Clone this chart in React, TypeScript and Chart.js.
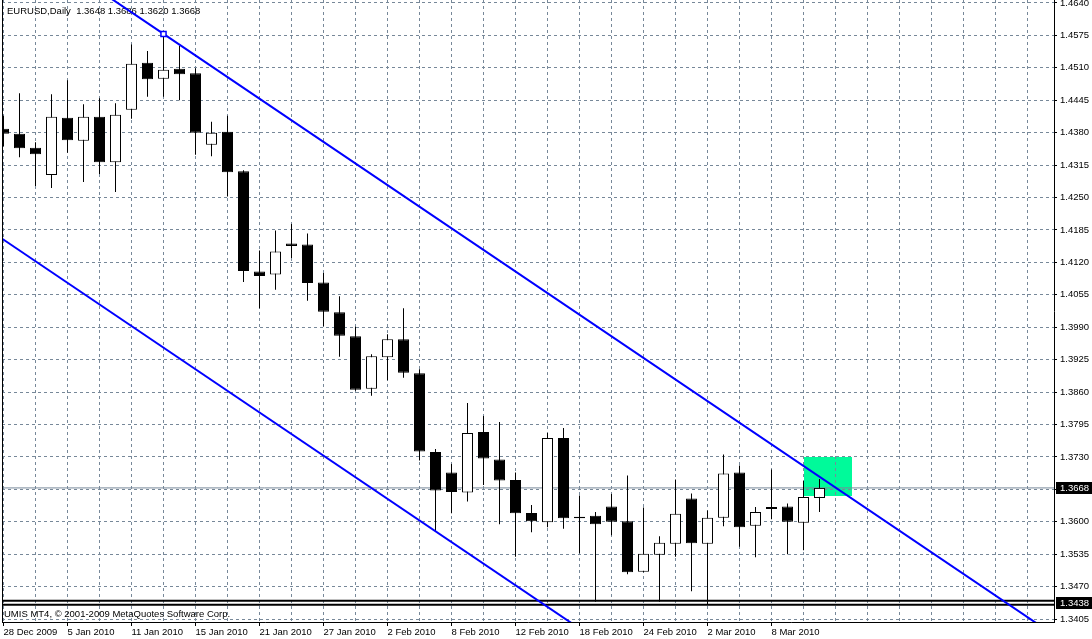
import React, { useEffect, useRef } from 'react';
import { Chart, registerables } from 'chart.js';

Chart.register(...registerables);

// ---------- text ----------
const headerText = 'EURUSD,Daily  1.3648 1.3686 1.3620 1.3668';
const copyrightText = 'UMIS MT4, \u00A9 2001-2009 MetaQuotes Software Corp.';

// ---------- time axis ----------
const dateTickLabels = [
  '28 Dec 2009', '5 Jan 2010', '11 Jan 2010', '15 Jan 2010', '21 Jan 2010',
  '27 Jan 2010', '2 Feb 2010', '8 Feb 2010', '12 Feb 2010', '18 Feb 2010',
  '24 Feb 2010', '2 Mar 2010', '8 Mar 2010',
];
const barsPerDateLabel = 4;
const barsPerGridLine = 2;
const lastGridBar = 64;

// ---------- price axis ----------
const priceTicks = [
  1.4640, 1.4575, 1.4510, 1.4445, 1.4380, 1.4315, 1.4250, 1.4185, 1.4120, 1.4055,
  1.3990, 1.3925, 1.3860, 1.3795, 1.3730, 1.3665, 1.3600, 1.3535, 1.3470, 1.3405,
];
const hiddenPriceTicks = [1.3665];

// ---------- daily candles (bar index 0 = 28 Dec 2009) ----------
const opens = [
  1.4388, 1.4378, 1.4350, 1.4295, 1.4410, 1.4364, 1.4412, 1.4321, 1.4426, 1.4520,
  1.4488, 1.4508, 1.4499, 1.4356, 1.4382, 1.4303, 1.4102, 1.4096, 1.4158, 1.4156,
  1.4080, 1.4020, 1.3972, 1.3867, 1.3930, 1.3966, 1.3898, 1.3740, 1.3699, 1.3659,
  1.3780, 1.3725, 1.3684, 1.3618, 1.3599, 1.3768, 1.3610, 1.3612, 1.3631, 1.3601,
  1.3500, 1.3534, 1.3556, 1.3647, 1.3556, 1.3608, 1.3699, 1.3592, 1.3626, 1.3631,
  1.3598, 1.3648,
];
const highs = [
  1.4414, 1.4459, 1.4361, 1.4457, 1.4485, 1.4437, 1.4449, 1.4439, 1.4557, 1.4544,
  1.4578, 1.4554, 1.4509, 1.4402, 1.4414, 1.4305, 1.4144, 1.4184, 1.4197, 1.4178,
  1.4099, 1.4052, 1.3991, 1.3936, 1.3976, 1.4028, 1.3906, 1.3746, 1.3716, 1.3838,
  1.3812, 1.3800, 1.3699, 1.3634, 1.3778, 1.3788, 1.3653, 1.3620, 1.3656, 1.3693,
  1.3629, 1.3571, 1.3685, 1.3657, 1.3623, 1.3735, 1.3713, 1.3630, 1.3705, 1.3637,
  1.3682, 1.3686,
];
const lows = [
  1.4353, 1.4331, 1.4273, 1.4269, 1.4340, 1.4281, 1.4297, 1.4261, 1.4408, 1.4452,
  1.4452, 1.4445, 1.4336, 1.4333, 1.4252, 1.4081, 1.4028, 1.4065, 1.4129, 1.4043,
  1.3992, 1.3931, 1.3863, 1.3853, 1.3884, 1.3889, 1.3723, 1.3581, 1.3617, 1.3641,
  1.3674, 1.3595, 1.3530, 1.3579, 1.3589, 1.3586, 1.3537, 1.3440, 1.3573, 1.3495,
  1.3499, 1.3440, 1.3530, 1.3461, 1.3435, 1.3591, 1.3550, 1.3529, 1.3605, 1.3535,
  1.3543, 1.3620,
];
const closes = [
  1.4378, 1.4349, 1.4337, 1.4412, 1.4365, 1.4412, 1.4321, 1.4416, 1.4518, 1.4487,
  1.4506, 1.4497, 1.4380, 1.4380, 1.4301, 1.4103, 1.4093, 1.4142, 1.4153, 1.4079,
  1.4021, 1.3973, 1.3865, 1.3932, 1.3966, 1.3899, 1.3741, 1.3663, 1.3660, 1.3778,
  1.3727, 1.3683, 1.3617, 1.3601, 1.3768, 1.3607, 1.3607, 1.3595, 1.3600, 1.3499,
  1.3536, 1.3558, 1.3616, 1.3557, 1.3608, 1.3697, 1.3589, 1.3620, 1.3630, 1.3600,
  1.3650, 1.3668,
];

// ---------- drawn objects ----------
const upperChannelBars = [5, 10, 66];
const upperChannelPrices = [1.46863, 1.4578, 1.33657];
const upperChannelMarker = [false, true, false];
const lowerChannelBars = [-1, 66];
const lowerChannelPrices = [1.41873, 1.27368];
const bidPrice = 1.3668;
const supportPrices = [1.3442, 1.3434];
const supportLabelPrice = 1.3438;
const zoneBars = [50, 53];
const zonePrices = [1.3652, 1.3730];

// ---------- view ----------
const xMin = -0.09375;
const xMax = 65.65625;
const yMin = 1.339927;
const yMax = 1.464601;

const FONT = "'Liberation Sans', Arial, Helvetica, sans-serif";
const FONT_SIZE = 9.5;
const GRID = '#778899';

const decorPlugin = {
  id: 'mt4Decor',
  beforeDraw(chart: any) {
    const { ctx, scales } = chart;
    const xs = scales.x;
    const ys = scales.y;
    const x0 = Math.round(xs.getPixelForValue(zoneBars[0]));
    const x1 = Math.round(xs.getPixelForValue(zoneBars[1]));
    const y0 = Math.round(ys.getPixelForValue(zonePrices[1]));
    const y1 = Math.round(ys.getPixelForValue(zonePrices[0]));
    ctx.save();
    ctx.fillStyle = '#00FA9A';
    ctx.fillRect(x0, y0, x1 - x0, y1 - y0);
    ctx.restore();
  },
  beforeDatasetsDraw(chart: any) {
    const { ctx, chartArea } = chart;
    ctx.save();
    ctx.fillStyle = '#000';
    ctx.font = `${FONT_SIZE}px ${FONT}`;
    ctx.textBaseline = 'alphabetic';
    ctx.textAlign = 'left';
    ctx.fillText(headerText, chartArea.left + 5, 14);
    ctx.fillText(copyrightText, chartArea.left + 2, chartArea.bottom - 5);
    ctx.restore();
  },
  afterDraw(chart: any) {
    const { ctx, chartArea, scales } = chart;
    const ys = scales.y;
    ctx.save();
    ctx.strokeStyle = '#000';
    ctx.lineWidth = 1;
    ctx.beginPath();
    ctx.moveTo(chartArea.left + 0.5, chartArea.top);
    ctx.lineTo(chartArea.left + 0.5, chartArea.bottom);
    ctx.stroke();
    ctx.font = `${FONT_SIZE}px ${FONT}`;
    ctx.textBaseline = 'middle';
    ctx.textAlign = 'left';
    const boxes = [bidPrice, supportLabelPrice];
    boxes.forEach((p) => {
      const yy = Math.round(ys.getPixelForValue(p));
      ctx.fillStyle = '#000';
      ctx.fillRect(chartArea.right + 2, yy - 6, 36, 12);
      ctx.fillStyle = '#fff';
      ctx.fillText(p.toFixed(4), chartArea.right + 6, yy + 0.5);
    });
    ctx.restore();
  },
};

export default function App() {
  const canvasRef = useRef<HTMLCanvasElement | null>(null);

  useEffect(() => {
    const canvas = canvasRef.current;
    if (!canvas) return;
    Chart.defaults.font.family = FONT;
    Chart.defaults.font.size = FONT_SIZE;
    Chart.defaults.color = '#000';

    const wicks = opens.map((_, i) => ({ x: i, y: [lows[i], highs[i]] }));
    const bodies = opens.map((o, i) => ({ x: i, y: [o, closes[i]] }));
    const bodyColors = opens.map((o, i) => (closes[i] >= o ? '#ffffff' : '#000000'));
    const gridBars = Array.from({ length: lastGridBar / barsPerGridLine + 1 }, (_, i) => i * barsPerGridLine);

    const chart = new Chart(canvas, {
      type: 'bar',
      data: {
        datasets: [
          {
            type: 'line',
            label: 'upper channel',
            data: upperChannelBars.map((b, i) => ({ x: b, y: upperChannelPrices[i] })),
            borderColor: '#0000FF',
            borderWidth: 2,
            pointRadius: upperChannelMarker.map((m) => (m ? 3.6 : 0)),
            pointStyle: 'rect',
            pointBackgroundColor: '#ffffff',
            pointBorderColor: '#0000FF',
            pointBorderWidth: 1.5,
            tension: 0,
            fill: false,
            clip: 0,
            order: 1,
          } as any,
          {
            type: 'line',
            label: 'lower channel',
            data: lowerChannelBars.map((b, i) => ({ x: b, y: lowerChannelPrices[i] })),
            borderColor: '#0000FF',
            borderWidth: 2,
            pointRadius: 0,
            tension: 0,
            fill: false,
            clip: 0,
            order: 1,
          } as any,
          {
            type: 'bar',
            label: 'bodies',
            data: bodies,
            backgroundColor: bodyColors,
            borderColor: '#000000',
            borderWidth: 1,
            borderSkipped: false,
            barThickness: 11,
            grouped: false,
            inflateAmount: 0,
            clip: 0,
            order: 2,
          } as any,
          {
            type: 'bar',
            label: 'wicks',
            data: wicks,
            backgroundColor: '#000000',
            borderWidth: 0,
            barThickness: 1,
            grouped: false,
            inflateAmount: 0,
            clip: 0,
            order: 3,
          } as any,
          ...supportPrices.map((p) => ({
            type: 'line',
            label: 'support',
            data: [{ x: xMin - 1, y: p }, { x: xMax + 1, y: p }],
            borderColor: '#000000',
            borderWidth: 2,
            pointRadius: 0,
            clip: 0,
            order: 4,
          })) as any,
          {
            type: 'line',
            label: 'bid',
            data: [{ x: xMin - 1, y: bidPrice }, { x: xMax + 1, y: bidPrice }],
            borderColor: GRID,
            borderWidth: 1,
            pointRadius: 0,
            clip: 0,
            order: 5,
          } as any,
        ],
      },
      options: {
        responsive: false,
        devicePixelRatio: 1,
        animation: false,
        layout: { padding: { left: 2, right: 0, top: 0, bottom: 0 } },
        plugins: {
          legend: { display: false },
          tooltip: { enabled: false },
          title: { display: false },
        },
        scales: {
          x: {
            type: 'linear',
            min: xMin,
            max: xMax,
            bounds: 'data',
            offset: false,
            afterBuildTicks: (s: any) => {
              s.ticks = gridBars.map((v) => ({ value: v }));
            },
            afterFit: (s: any) => {
              s.height = 17;
              s.paddingLeft = 0;
              s.paddingRight = 0;
            },
            grid: {
              color: GRID,
              lineWidth: 1,
              offset: false,
              drawTicks: true,
              tickLength: 4,
              tickWidth: 1,
              tickColor: (c: any) =>
                c.tick && c.tick.value % barsPerDateLabel === 0 && c.tick.value / barsPerDateLabel < dateTickLabels.length
                  ? '#000'
                  : 'rgba(0,0,0,0)',
            },
            border: { display: true, color: '#000', width: 1, dash: [3, 3] },
            ticks: {
              autoSkip: false,
              maxRotation: 0,
              minRotation: 0,
              align: 'start',
              padding: 1,
              color: '#000',
              font: { family: FONT, size: FONT_SIZE },
              callback: (v: any) => {
                const n = Number(v);
                if (n % barsPerDateLabel !== 0) return '';
                return dateTickLabels[n / barsPerDateLabel] ?? '';
              },
            },
          },
          y: {
            type: 'linear',
            position: 'right',
            min: yMin,
            max: yMax,
            bounds: 'data',
            beginAtZero: false,
            afterBuildTicks: (s: any) => {
              s.ticks = priceTicks.map((v) => ({ value: v }));
            },
            afterFit: (s: any) => {
              s.width = 38;
              s.paddingTop = 0;
              s.paddingBottom = 0;
            },
            grid: {
              color: GRID,
              lineWidth: 1,
              drawTicks: true,
              tickLength: 3,
              tickWidth: 1,
              tickColor: '#000',
            },
            border: { display: true, color: '#000', width: 1, dash: [3, 3] },
            ticks: {
              autoSkip: false,
              padding: 3,
              color: '#000',
              font: { family: FONT, size: FONT_SIZE },
              callback: (v: any) => {
                const n = Number(v);
                if (hiddenPriceTicks.some((h) => Math.abs(h - n) < 1e-7)) return '';
                return n.toFixed(4);
              },
            },
          },
        },
      } as any,
      plugins: [decorPlugin],
    });

    return () => {
      chart.destroy();
    };
  }, []);

  return (
    <div style={{ position: 'fixed', left: 0, top: 0, width: 1092, height: 639, background: '#fff' }}>
      <canvas ref={canvasRef} width={1092} height={639} style={{ display: 'block', width: 1092, height: 639 }} />
    </div>
  );
}
